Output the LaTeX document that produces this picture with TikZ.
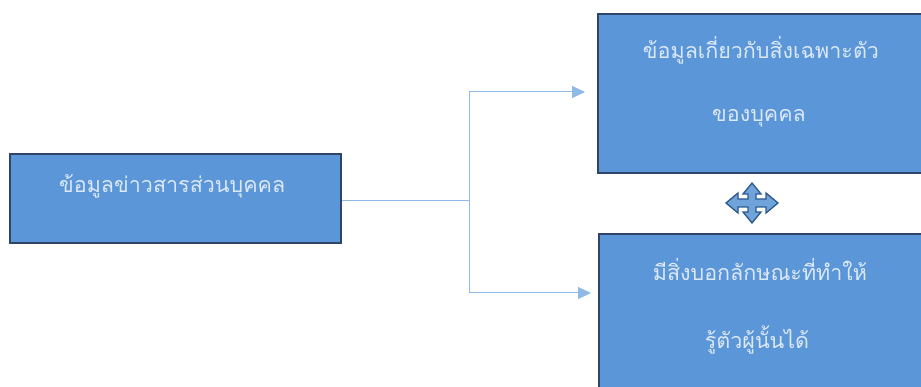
\documentclass[tikz,border=0pt]{standalone}
\usepackage{fontspec}
\newfontfamily\thaifont[Script=Thai]{Loma}
\usetikzlibrary{arrows.meta}
\definecolor{boxfill}{HTML}{5A96D8}
\definecolor{boxline}{HTML}{2E4468}
\definecolor{conn}{HTML}{8FB9E6}
\definecolor{txt}{HTML}{DCE8F6}
\definecolor{iconfill}{HTML}{6FA3DA}
\definecolor{iconline}{HTML}{2C5A8C}
\tikzset{
  bluebox/.style={draw=boxline, line width=1.6pt, fill=boxfill},
  boxtext/.style={text=txt, font=\thaifont\fontsize{21.5}{24}\selectfont, inner sep=0pt},
  connline/.style={draw=conn, line width=1pt},
  arrowline/.style={connline, -{Triangle[length=13pt,width=12pt]}},
}
\begin{document}
\begin{tikzpicture}[x=1pt,y=-1pt]
\useasboundingbox (0,0) rectangle (921,387);
\begin{scope}
\clip (0,0) rectangle (921,387);
% boxes
\node[bluebox, minimum width=331pt, minimum height=89pt, anchor=north west, inner sep=0pt] (left) at (9,153) {};
\node[bluebox, minimum width=330pt, minimum height=159pt, anchor=north west, inner sep=0pt] (top) at (597,13) {};
\node[bluebox, minimum width=330pt, minimum height=170pt, anchor=north west, inner sep=0pt] (bot) at (598,233) {};
\end{scope}
% texts
\node[boxtext, anchor=west] (lt) at (59,186) {ข้อมูลข่าวสารส่วนบุคคล};
\node[boxtext] (t1) at (761,50) {ข้อมูลเกี่ยวกับสิ่งเฉพาะตัว};
\node[boxtext] (t2) at (759,118) {ของบุคคล};
\node[boxtext] (b1) at (760,270) {มีสิ่งบอกลักษณะที่ทำให้};
\node[boxtext] (b2) at (757,340) {รู้ตัวผู้นั้นได้};
% connectors
\coordinate (split) at (469,201);
\coordinate (ta) at (585,92);
\coordinate (ba) at (591,293);
\draw[connline] (left.east |- split) -- (split);
\draw[arrowline] (split) |- (ta);
\draw[arrowline] (split) |- (ba);
% move icon
\begin{scope}[shift={(752,203)}]
\draw[fill=iconfill, draw=iconline, line width=1.3pt, line join=miter] (-26,0) -- (-14,-10) -- (-14,-4) -- (-4,-4) -- (-4,-9) -- (-9,-9) -- (0,-20) -- (9,-9) -- (4,-9) -- (4,-4) -- (14,-4) -- (14,-10) -- (26,0) -- (14,10) -- (14,4) -- (4,4) -- (4,9) -- (9,9) -- (0,20) -- (-9,9) -- (-4,9) -- (-4,4) -- (-14,4) -- (-14,10) -- cycle;
\end{scope}
\end{tikzpicture}
\end{document}
